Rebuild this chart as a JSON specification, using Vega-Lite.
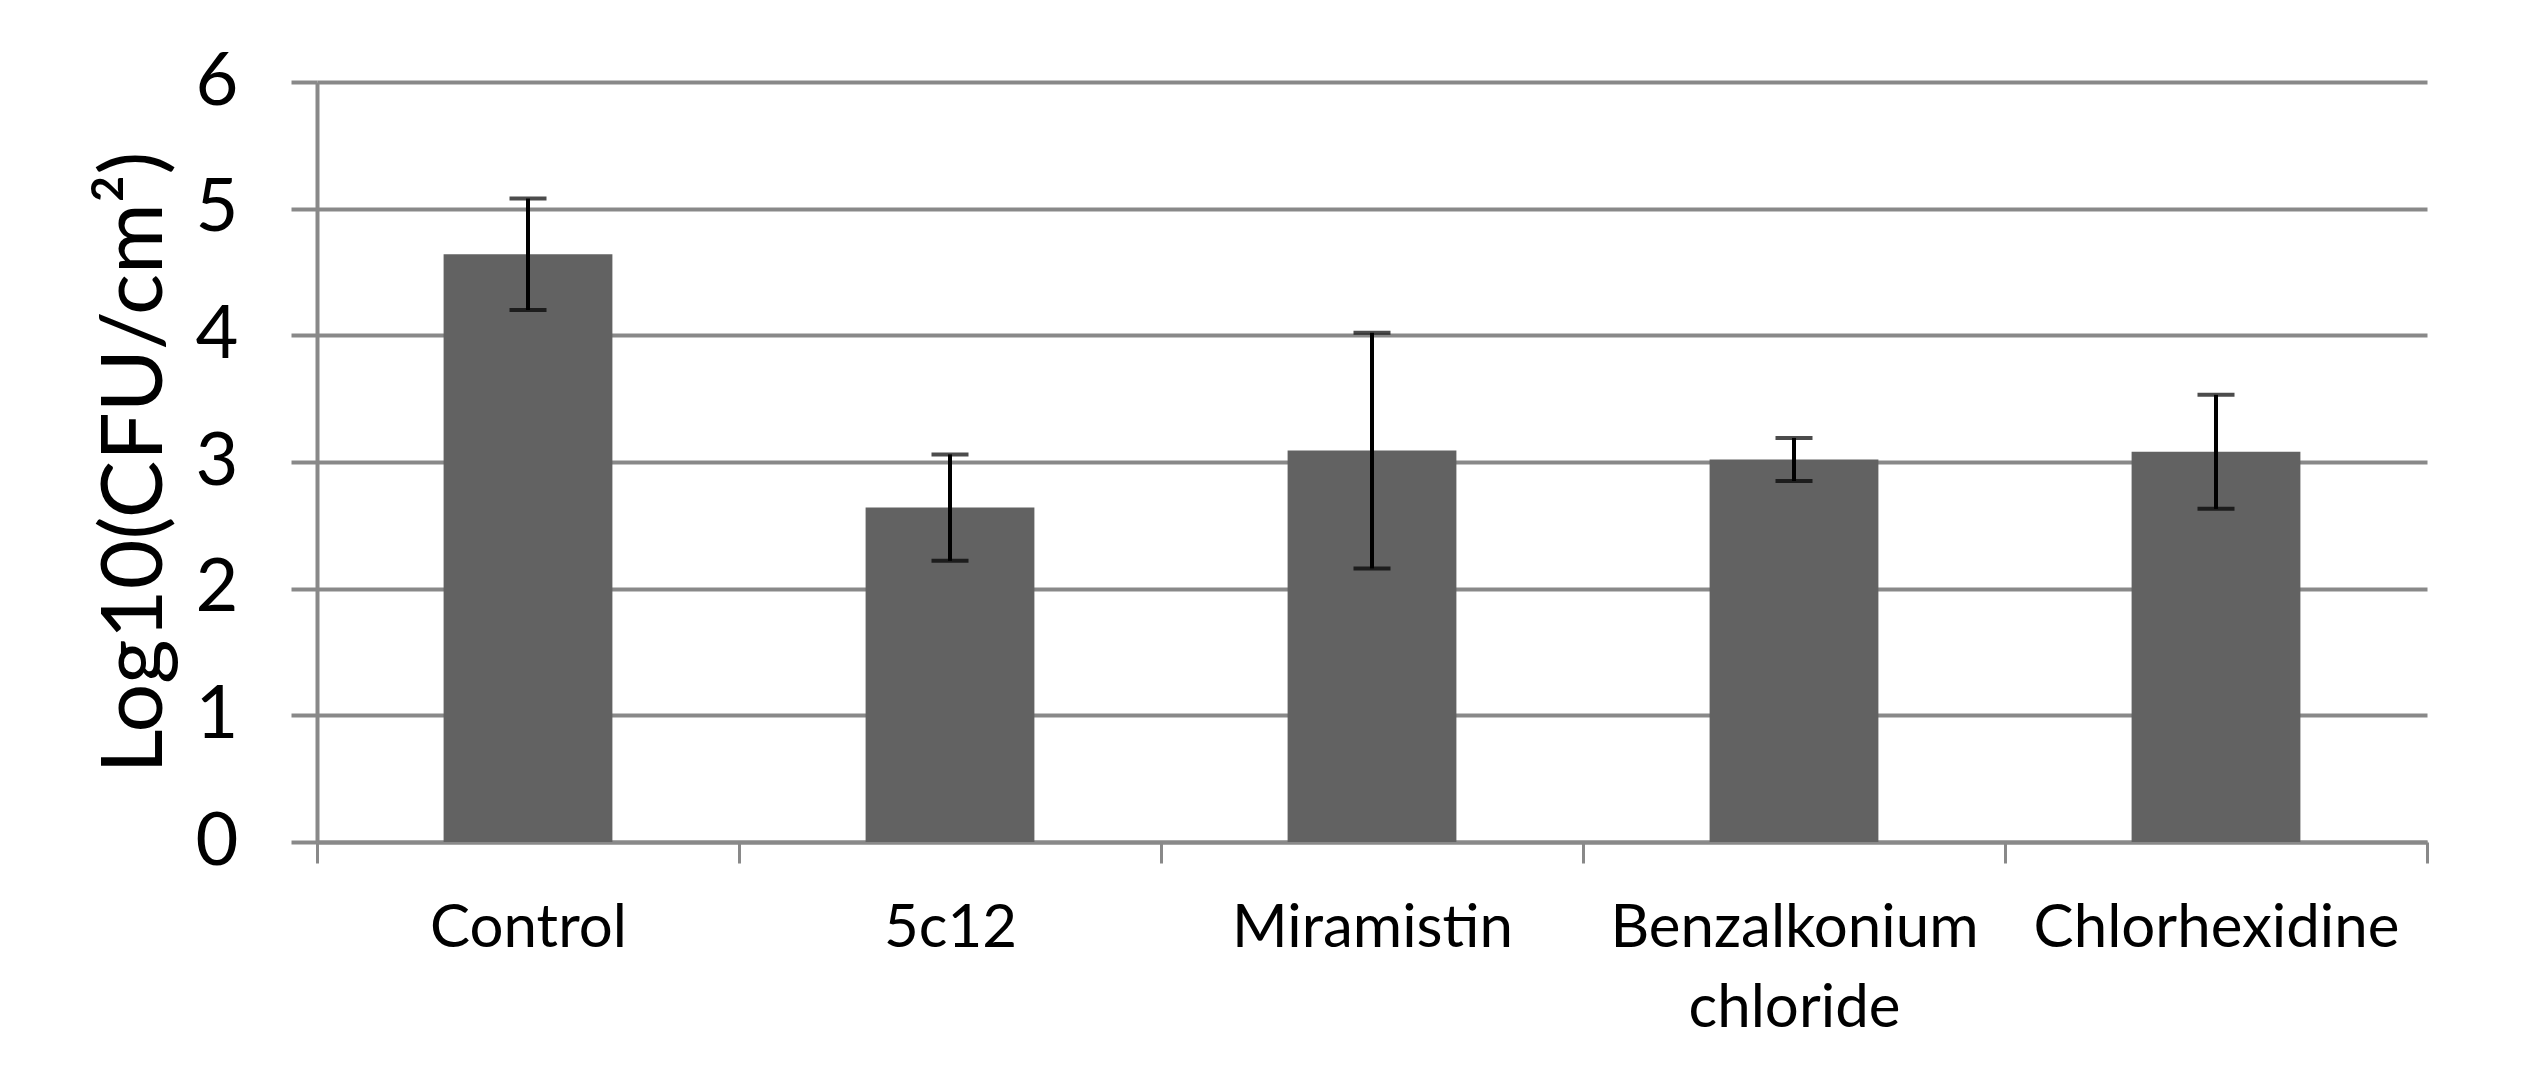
{
  "$schema": "https://vega.github.io/schema/vega-lite/v6.json",
  "autosize": {"type": "none"},
  "padding": {"left": 317, "top": 82, "right": 101, "bottom": 238},
  "width": 2110,
  "height": 760,
  "background": "white",
  "config": {"view": {"stroke": null}, "font": "Lato"},
  "data": {"values": [
    {"treatment": "Control", "mean": 4.64, "err": 0.44},
    {"treatment": "5c12", "mean": 2.64, "err": 0.42},
    {"treatment": "Miramistin", "mean": 3.09, "err": 0.93},
    {"treatment": "Benzalkonium chloride", "mean": 3.02, "err": 0.17},
    {"treatment": "Chlorhexidine", "mean": 3.08, "err": 0.45}
  ]},
  "encoding": {
    "x": {
      "field": "treatment", "type": "nominal", "sort": null,
      "scale": {"paddingInner": 0, "paddingOuter": 0},
      "axis": {
        "title": null, "labelAngle": 0, "labelLimit": 0,
        "labelExpr": "datum.label == 'Benzalkonium chloride' ? ['Benzalkonium', 'chloride'] : datum.label",
        "labelFont": "Lato", "labelFontSize": 60, "labelColor": "#000000",
        "labelLineHeight": 80, "labelPadding": 36,
        "tickBand": "extent", "tickSize": 21, "tickWidth": 3, "tickColor": "#898989",
        "domainColor": "#898989", "domainWidth": 4,
        "grid": false
      }
    }
  },
  "layer": [
    {
      "mark": {"type": "bar", "color": "#626262", "width": {"band": 0.4}},
      "encoding": {
        "y": {
          "field": "mean", "type": "quantitative", "title": "Log10(CFU/cm²)",
          "scale": {"domain": [0, 6], "nice": false},
          "axis": {
            "titleFont": "Lato", "titleFontSize": 86,
            "titleFontWeight": "normal", "titleColor": "#000000", "titlePadding": 16,
            "values": [0, 1, 2, 3, 4, 5, 6], "format": "d",
            "labelFont": "Lato", "labelFontSize": 74, "labelColor": "#000000",
            "labelPadding": 53,
            "tickSize": 26, "tickWidth": 4, "tickColor": "#898989",
            "domainColor": "#898989", "domainWidth": 4,
            "grid": true, "gridColor": "#898989", "gridWidth": 4
          }
        }
      }
    },
    {
      "mark": {"type": "errorbar", "color": "#000000",
        "rule": {"strokeWidth": 4},
        "ticks": {"size": 37, "thickness": 4, "color": "#000000"}},
      "encoding": {
        "y": {"field": "mean", "type": "quantitative", "title": "Log10(CFU/cm²)"},
        "yError": {"field": "err"}
      }
    }
  ]
}
